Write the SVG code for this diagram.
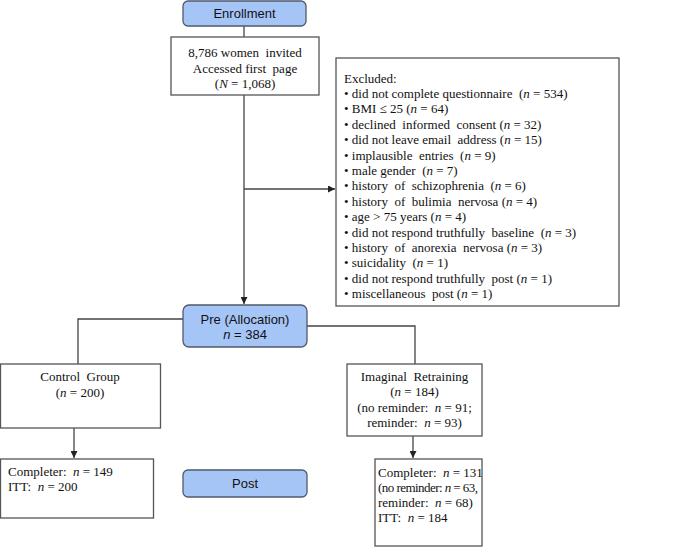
<svg xmlns="http://www.w3.org/2000/svg" width="685" height="547" viewBox="0 0 685 547">
<defs>
<style>
.box{fill:#ffffff;stroke:#555555;stroke-width:1.3}
.stage{fill:#a6c5f7;stroke:#505a6a;stroke-width:1.3}
.ln{fill:none;stroke:#444444;stroke-width:1.3}
.s{font-family:"Liberation Serif","Times New Roman",serif;font-size:13px;fill:#111111;white-space:pre}
.a{font-family:"Liberation Sans",Arial,sans-serif;font-size:13px;fill:#111111}
.c{text-anchor:middle}
.i{font-style:italic}
</style>
<marker id="ah" viewBox="0 0 8 8" refX="8" refY="4" markerWidth="7" markerHeight="7" markerUnits="userSpaceOnUse" orient="auto">
<path d="M0,0 L8,4 L0,8 z" fill="#222222"/>
</marker>
</defs>
<rect width="685" height="547" fill="#ffffff"/>

<g id="connectors">
<line class="ln" x1="244" y1="26" x2="244" y2="37"/>
<line class="ln" x1="244" y1="95" x2="244" y2="304" marker-end="url(#ah)"/>
<line class="ln" x1="244" y1="189" x2="335" y2="189" marker-end="url(#ah)"/>
<polyline class="ln" points="183,319 78,319 78,364"/>
<polyline class="ln" points="307,326 415,326 415,364"/>
<line class="ln" x1="74" y1="428" x2="74" y2="458" marker-end="url(#ah)"/>
<line class="ln" x1="413" y1="436" x2="413" y2="458" marker-end="url(#ah)"/>
</g>

<g id="enrollment">
<rect class="stage" x="183" y="1" width="123" height="25" rx="5"/>
<text class="a c" x="244.5" y="17.5">Enrollment</text>
</g>

<g id="invited" xml:space="preserve">
<rect class="box" x="171" y="37" width="148" height="58"/>
<text class="s c" x="245" y="57">8,786 women  invited</text>
<text class="s c" x="245" y="72.5">Accessed first  page</text>
<text class="s c" x="245" y="88">(<tspan class="i">N</tspan> = 1,068)</text>
</g>

<g id="excluded" xml:space="preserve">
<rect class="box" x="336" y="58" width="283" height="248"/>
<text class="s" x="344" y="82.5">Excluded:</text>
<text class="s" x="344" y="97.9">• did not complete questionnaire  (<tspan class="i">n</tspan> = 534)</text>
<text class="s" x="344" y="113.3">• BMI ≤ 25 (<tspan class="i">n</tspan> = 64)</text>
<text class="s" x="344" y="128.7">• declined  informed  consent (<tspan class="i">n</tspan> = 32)</text>
<text class="s" x="344" y="144.1">• did not leave email  address (<tspan class="i">n</tspan> = 15)</text>
<text class="s" x="344" y="159.5">• implausible  entries  (<tspan class="i">n</tspan> = 9)</text>
<text class="s" x="344" y="174.9">• male gender  (<tspan class="i">n</tspan> = 7)</text>
<text class="s" x="344" y="190.3">• history  of  schizophrenia  (<tspan class="i">n</tspan> = 6)</text>
<text class="s" x="344" y="205.7">• history  of  bulimia  nervosa (<tspan class="i">n</tspan> = 4)</text>
<text class="s" x="344" y="221.1">• age &gt; 75 years (<tspan class="i">n</tspan> = 4)</text>
<text class="s" x="344" y="236.5">• did not respond truthfully  baseline  (<tspan class="i">n</tspan> = 3)</text>
<text class="s" x="344" y="251.9">• history  of  anorexia  nervosa (<tspan class="i">n</tspan> = 3)</text>
<text class="s" x="344" y="267.3">• suicidality  (<tspan class="i">n</tspan> = 1)</text>
<text class="s" x="344" y="282.7">• did not respond truthfully  post (<tspan class="i">n</tspan> = 1)</text>
<text class="s" x="344" y="298.1">• miscellaneous  post (<tspan class="i">n</tspan> = 1)</text>
</g>

<g id="pre">
<rect class="stage" x="183" y="305" width="124" height="42" rx="6"/>
<text class="a c" x="245" y="323.5">Pre (Allocation)</text>
<text class="a c" x="245" y="338.5"><tspan class="i">n</tspan> = 384</text>
</g>

<g id="control" xml:space="preserve">
<rect class="box" x="0.5" y="364" width="160" height="64"/>
<text class="s c" x="80" y="380.5">Control  Group</text>
<text class="s c" x="80" y="397">(<tspan class="i">n</tspan> = 200)</text>
</g>

<g id="imaginal" xml:space="preserve">
<rect class="box" x="347" y="364" width="135" height="72"/>
<text class="s c" x="414.5" y="380.5">Imaginal  Retraining</text>
<text class="s c" x="414.5" y="396">(<tspan class="i">n</tspan> = 184)</text>
<text class="s c" x="414.5" y="412">(no reminder:  <tspan class="i">n</tspan> = 91;</text>
<text class="s c" x="414.5" y="427">reminder:  <tspan class="i">n</tspan> = 93)</text>
</g>

<g id="control-post" xml:space="preserve">
<rect class="box" x="0.5" y="459" width="153" height="59"/>
<text class="s" x="8" y="476">Completer:  <tspan class="i">n</tspan> = 149</text>
<text class="s" x="8" y="491">ITT:  <tspan class="i">n</tspan> = 200</text>
</g>

<g id="post">
<rect class="stage" x="183" y="470" width="124" height="27" rx="5"/>
<text class="a c" x="245" y="487.5">Post</text>
</g>

<g id="imaginal-post" xml:space="preserve">
<rect class="box" x="375" y="459" width="107" height="87"/>
<text class="s" x="378" y="477">Completer:  <tspan class="i">n</tspan> = 131</text>
<text class="s" x="378" y="492" textLength="100" lengthAdjust="spacing">(no reminder: <tspan class="i">n</tspan> = 63,</text>
<text class="s" x="378" y="507">reminder:  <tspan class="i">n</tspan> = 68)</text>
<text class="s" x="378" y="522">ITT:  <tspan class="i">n</tspan> = 184</text>
</g>
</svg>
